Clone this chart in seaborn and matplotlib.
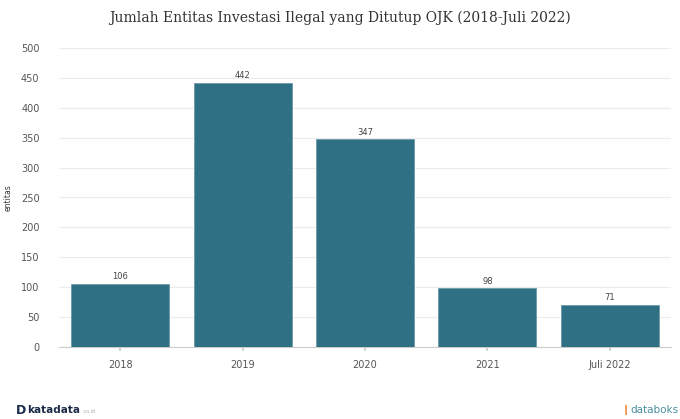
import matplotlib
matplotlib.use("Agg")
import matplotlib.pyplot as plt
import seaborn as sns
import pandas as pd

categories = ["2018", "2019", "2020", "2021", "Juli 2022"]
values = [106, 442, 347, 98, 71]
yticks = [0, 50, 100, 150, 200, 250, 300, 350, 400, 450, 500]

sns.set_theme(style="white")
plt.rcParams['font.family'] = ['DejaVu Sans']

df = pd.DataFrame({"tahun": categories, "entitas": values})

fig = plt.figure(figsize=(6.8, 4.19), dpi=100)
ax = fig.add_axes([59/680, 1-347/419, 612/680, 299/419])

sns.barplot(data=df, x="tahun", y="entitas", color="#2f7084", saturation=1,
            width=0.8, ax=ax, zorder=3, edgecolor="#6d9aa8", linewidth=0.6)

ax.set_ylim(0, 500)
ax.set_xlim(-0.5, 4.5)
ax.set_yticks(yticks)
ax.yaxis.grid(True, color="#ececec", linewidth=0.8, zorder=0)
for s in ["top", "right", "left"]:
    ax.spines[s].set_visible(False)
ax.spines["bottom"].set_color("#cccccc")
ax.spines["bottom"].set_linewidth(0.8)
ax.tick_params(axis="y", length=0, labelsize=7, labelcolor="#555555", pad=14)
ax.tick_params(axis="x", length=3, color="#cccccc", labelsize=7, labelcolor="#555555", pad=6, bottom=True)
ax.set_xlabel("")
ax.set_ylabel("entitas", fontsize=5.5, color="#333333", labelpad=6)

for i, v in enumerate(values):
    ax.text(i, v + 4, str(v), ha="center", va="bottom", fontsize=6, color="#444444")

fig.text(0.5, 1-18/419, "Jumlah Entitas Investasi Ilegal yang Ditutup OJK (2018-Juli 2022)",
         ha="center", va="center", fontsize=10, color="#333333", family="DejaVu Serif")

fig.text(16/680, 1-410/419, "D", ha="left", va="center", fontsize=9, fontweight="bold", color="#1c2a4a")
fig.text(27/680, 1-410/419, "katadata", ha="left", va="center", fontsize=7.5, fontweight="bold", color="#1c2a4a")
fig.text(82/680, 1-411/419, ".co.id", ha="left", va="center", fontsize=3.5, color="#aaaaaa")
fig.text(622/680, 1-410/419, "\u2759", ha="left", va="center", fontsize=7, color="#f08a3c")
fig.text(630/680, 1-410/419, "databoks", ha="left", va="center", fontsize=7.5, color="#4a8fa0")

fig.savefig("out.png", dpi=100)
